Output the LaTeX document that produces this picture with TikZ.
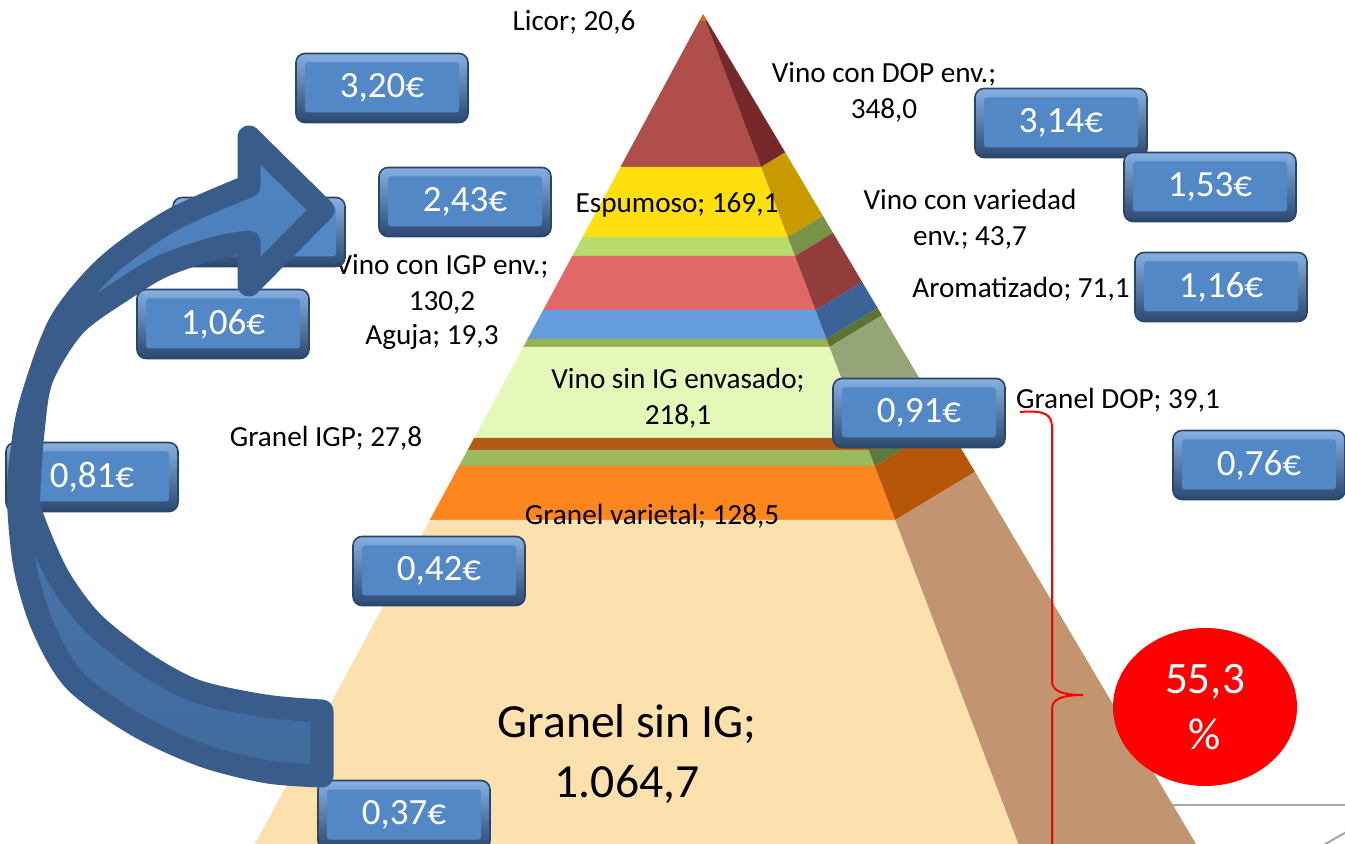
\documentclass[tikz,border=0pt]{standalone}
\usepackage{fontspec}
\setmainfont{Carlito}
\usetikzlibrary{shapes.geometric}
\definecolor{licF}{HTML}{E46C0A}\definecolor{licS}{HTML}{B4540A}
\definecolor{dopF}{HTML}{B04E4B}\definecolor{dopS}{HTML}{77292A}
\definecolor{espF}{HTML}{FFDF0F}\definecolor{espS}{HTML}{C99A00}
\definecolor{varF}{HTML}{B8DB6E}\definecolor{varS}{HTML}{7A9247}
\definecolor{igpF}{HTML}{E26767}\definecolor{igpS}{HTML}{933C3C}
\definecolor{aroF}{HTML}{659CDE}\definecolor{aroS}{HTML}{3C6395}
\definecolor{aguF}{HTML}{97B451}\definecolor{aguS}{HTML}{5D7431}
\definecolor{sinF}{HTML}{E4F8BA}\definecolor{sinS}{HTML}{96A578}
\definecolor{gigF}{HTML}{B35A16}\definecolor{gigS}{HTML}{7C3D0E}
\definecolor{gdoF}{HTML}{9BBA5E}\definecolor{gdoS}{HTML}{5F793A}
\definecolor{gvaF}{HTML}{FE861E}\definecolor{gvaS}{HTML}{B45508}
\definecolor{gsiF}{HTML}{FCE1AF}\definecolor{gsiS}{HTML}{C29570}
\definecolor{rimC}{HTML}{2A4566}
\definecolor{bevTop}{HTML}{86B0E3}
\definecolor{bevBot}{HTML}{2B4870}
\definecolor{faceC}{HTML}{5388C7}
\definecolor{arrLine}{HTML}{395C8A}
\definecolor{arrT}{HTML}{5085C2}
\definecolor{arrB}{HTML}{416A9C}
\definecolor{lineG}{HTML}{A6A6A6}
\begin{document}
\begin{tikzpicture}[x=0.5pt,y=-0.5pt,
  lbl/.style={font=\fontsize{14.6}{18}\selectfont, align=center, inner sep=0pt, text=black},
  bigl/.style={font=\fontsize{23.8}{30}\selectfont, align=center, inner sep=0pt, text=black},
  pricebox/.style={draw=rimC, line width=0.8pt, rounded corners=4.5pt,
    minimum width=86pt, minimum height=34.5pt, inner sep=0pt, text=white,
    font=\fontsize{18.5}{22}\selectfont,
    path picture={
      \shade[top color=bevTop, bottom color=bevBot]
        (path picture bounding box.south west) rectangle (path picture bounding box.north east);
      \fill[faceC, rounded corners=1.5pt]
        ([xshift=4.5pt,yshift=5pt]path picture bounding box.south west) rectangle
        ([xshift=-4.5pt,yshift=-4.5pt]path picture bounding box.north east);
    }},
  pct/.style={ellipse, fill=red, minimum width=92pt, minimum height=79pt, inner sep=0pt,
    text=white, align=center, font=\fontsize{22.5}{28}\selectfont},
  arrowband/.style={draw=arrLine, line width=11.5pt, line join=round, top color=arrT, bottom color=arrB},
  bracel/.style={draw=red, line width=1pt},
  grayl/.style={draw=lineG, line width=1pt}
]
\useasboundingbox (0,0) rectangle (1345,844);
\clip (0,0) rectangle (1345,844);
% background gray lines
\draw[grayl] (1150,805) -- (1350,805);
\draw[grayl] (1320,847) -- (1350,830);
% pyramid bands
\foreach \ya/\yb/\cf/\cs in {14/21/licF/licS, 21/167/dopF/dopS, 167/237/espF/espS, 237/256/varF/varS,
  256/310/igpF/igpS, 310/339/aroF/aroS, 339/347/aguF/aguS, 347/438/sinF/sinS, 438/450/gigF/gigS,
  450/466/gdoF/gdoS, 466/520/gvaF/gvaS} {
  \pgfmathsetmacro\la{703-0.54*(\ya-14)}
  \pgfmathsetmacro\ra{703+0.38*(\ya-14)}
  \pgfmathsetmacro\lb{703-0.54*(\yb-14)}
  \pgfmathsetmacro\rb{703+0.38*(\yb-14)}
  \pgfmathsetmacro\sax{703+0.5376*(\ya-14)}
  \pgfmathsetmacro\say{14+0.905*(\ya-14)}
  \pgfmathsetmacro\sbx{703+0.5376*(\yb-14)}
  \pgfmathsetmacro\sby{14+0.905*(\yb-14)}
  \fill[fill=\cf] (\la,\ya) -- (\ra,\ya) -- (\rb,\yb) -- (\lb,\yb) -- cycle;
  \fill[fill=\cs] (\ra,\ya) -- (\sax,\say) -- (\sbx,\sby) -- (\rb,\yb) -- cycle;
}
% bottom band (Granel sin IG)
\fill[gsiF] (429.76,520) -- (895.28,520) -- (1024.48,860) -- (246.16,860) -- cycle;
\fill[gsiS] (895.28,520) -- (975.03,471.93) -- (1205.52,860) -- (1024.48,860) -- cycle;
% brace
\draw[bracel] (1020,412) .. controls (1046,410) and (1052,415) .. (1052,428) -- (1052,681)
  .. controls (1052,691) and (1062,695) .. (1083,695)
  .. controls (1062,695) and (1052,699) .. (1052,709) -- (1052,860);
% percentage
\node[pct] (pct) at (1205,707) {55,3\\\%};
% labels
\node[lbl] (licor) at (574,22) {Licor; 20,6};
\node[lbl] (dop) at (884,92) {Vino con DOP env.;\\348,0};
\node[lbl] (esp) at (677,205) {Espumoso; 169,1};
\node[lbl] (var) at (970,219) {Vino con variedad\\env.; 43,7};
\node[lbl] (igp) at (442,284) {Vino con IGP env.;\\130,2};
\node[lbl] (aro) at (1021,289) {Aromatizado; 71,1};
\node[lbl] (agu) at (432,337) {Aguja; 19,3};
\node[lbl] (sin) at (678,398) {Vino sin IG envasado;\\218,1};
\node[lbl] (gigp) at (326,438) {Granel IGP; 27,8};
\node[lbl] (gdop) at (1118,400) {Granel DOP; 39,1};
\node[lbl] (gvar) at (652,516) {Granel varietal; 128,5};
\node[bigl] (gsin) at (627,754) {Granel sin IG;\\1.064,7};
% price boxes
\node[pricebox] (b320) at (382,88) {3,20€};
\node[pricebox] (b243) at (465,202) {2,43€};
\node[pricebox] (b314) at (1061,123) {3,14€};
\node[pricebox] (b153) at (1210,187) {1,53€};
\node[pricebox] (b116) at (1221,287) {1,16€};
\node[pricebox] (bhid) at (259,232) {};
\node[pricebox] (b106) at (223,324) {1,06€};
\node[pricebox] (b091) at (919,413) {0,91€};
\node[pricebox] (b076) at (1259,465) {0,76€};
\node[pricebox] (b081) at (92,477) {0,81€};
\node[pricebox] (b042) at (439,571) {0,42€};
\node[pricebox] (b037) at (404,815) {0,37€};
% curved arrow
\shadedraw[arrowband] (322,711) -- (322,776) -- plot[smooth] coordinates {(322,776) (268,772) (204,756) (138,726) (75,681) (43,627) (25,567) (18.5,500) (22,450) (31,402) (60,323) (107,266) (172,220) (249,186)}
  -- (249,137) -- (323,210) -- (249,285) -- (249,242)
  -- plot[smooth] coordinates {(249,242) (215,248) (163,266) (126,288) (75,325) (42,378) (33,432) (29,490) (31,513) (57,574) (92,622) (144,663) (196,691) (265,706) (322,711)} -- cycle;
\end{tikzpicture}
\end{document}
